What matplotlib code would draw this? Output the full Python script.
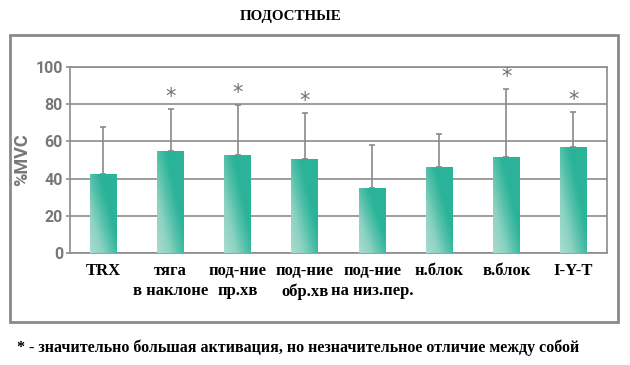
import matplotlib
matplotlib.use("Agg")
import matplotlib.pyplot as plt
import numpy as np
from matplotlib.patches import Rectangle
from matplotlib.colors import LinearSegmentedColormap

categories = ["TRX", "тяга\nв наклоне", "под-ние\nпр.хв", "под-ние\nобр.хв",
              "под-ние\nна низ.пер.", "н.блок", "в.блок", "I-Y-T"]
values = [42.5, 55, 52.5, 50.5, 35, 46, 51.5, 57]
err_top = [67.5, 77.5, 79.5, 75, 58, 64, 88, 76]
star_marks = [False, True, True, True, False, False, True, True]
yticks = [0, 20, 40, 60, 80, 100]
title = "ПОДОСТНЫЕ"
footnote = "* - значительно большая активация, но незначительное отличие между собой"

fig = plt.figure(figsize=(6.3, 3.65), dpi=100)
fig.patch.set_facecolor("white")

# outer frame
fig.patches.append(Rectangle((0.016, 0.118), 0.965, 0.786, transform=fig.transFigure,
                             fill=False, edgecolor="#8a8a8a", linewidth=2.0))

ax = fig.add_axes([0.111, 0.307, 0.8525, 0.5095])
x = np.arange(len(categories))
width = 0.4

ax.set_yticks(yticks)
ax.yaxis.grid(True, color="#8c8c8c", linewidth=1.2)
ax.set_axisbelow(True)
for s in ax.spines.values():
    s.set_color("#8c8c8c")
    s.set_linewidth(1.2)
ax.tick_params(axis="y", length=3, width=1.2, color="#8c8c8c", pad=2,
               labelcolor="#777777", labelsize=11.5)
ax.tick_params(axis="x", length=0, pad=7)
for lab in ax.get_yticklabels():
    lab.set_fontweight("bold")
    lab.set_family("Roboto")

# error bars (upper only)
ax.errorbar(x, values, yerr=[np.zeros(len(values)), np.array(err_top) - np.array(values)],
            fmt="none", ecolor="#8a8a8a", elinewidth=1.2, capsize=2.5, capthick=1.2, zorder=2)

bars = ax.bar(x, values, width=width, color="#2bb39a", zorder=3)
cmap = LinearSegmentedColormap.from_list(
    "g", [(0.0, "#a8dcd0"), (0.35, "#8cd2c2"), (0.65, "#52c0a9"), (0.9, "#2ab398"), (1.0, "#2ab398")])
gx, gy = np.meshgrid(np.linspace(0, 1, 40), np.linspace(0, 1, 100))
for b in bars:
    x0, w, h = b.get_x(), b.get_width(), b.get_height()
    grad = np.clip(0.75 * gx + 0.65 * gy, 0, 1)
    im = ax.imshow(grad, extent=[x0, x0 + w, 0, h], origin="lower", cmap=cmap,
                   aspect="auto", zorder=4, vmin=0, vmax=1)
    im.set_clip_path(b)
ax.set_xlim(-0.5, len(categories) - 0.5)
ax.set_ylim(0, 100)

for xi, e, s in zip(x, err_top, star_marks):
    if s:
        ax.text(xi, e + 6.5, "*", ha="center", va="center", fontsize=15,
                color="#707070", family="DejaVu Sans")

ax.set_xticks(x)
ax.set_xticklabels(categories, family="Liberation Serif", fontweight="bold",
                   fontsize=12, color="black", linespacing=1.4, va="top")

ax.set_ylabel("%MVC", family="Roboto", fontweight="bold", color="#777777",
              fontsize=13, labelpad=3)

fig.text(0.461, 0.955, title, ha="center", va="center", family="Liberation Serif",
         fontweight="bold", fontsize=10.8)
fig.text(0.027, 0.048, footnote, ha="left", va="center", family="Liberation Serif",
         fontweight="bold", fontsize=11.5)

fig.savefig("out.png", dpi=100)
